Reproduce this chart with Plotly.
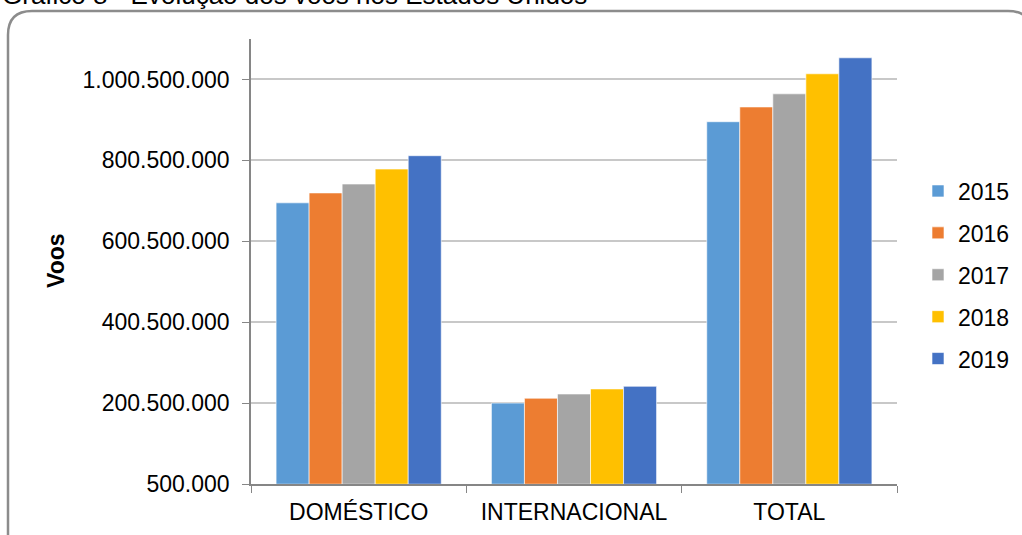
import plotly.graph_objects as go

categories = ["DOMÉSTICO", "INTERNACIONAL", "TOTAL"]
years = ["2015", "2016", "2017", "2018", "2019"]
v2015 = [695500000, 200500000, 896000000]
v2016 = [720000000, 212500000, 932500000]
v2017 = [742000000, 223000000, 965000000]
v2018 = [779000000, 235500000, 1014500000]
v2019 = [812000000, 242000000, 1054000000]
series = [v2015, v2016, v2017, v2018, v2019]
colors = ["#5B9BD5", "#ED7D31", "#A5A5A5", "#FFC000", "#4472C4"]

W, H = 1022, 535
L, R, T, B = 251, 897, 39, 484


def px(x):
    return (x - L) / (R - L)


def py(y):
    return (B - y) / (B - T)


FONT = "Liberation Sans, Arial, sans-serif"
FS = 23

fig = go.Figure()
for yr, vals, c in zip(years, series, colors):
    fig.add_trace(go.Bar(
        x=categories, y=vals, name=yr, legendgroup=yr,
        marker=dict(color=c, line=dict(color="rgba(255,255,255,0.6)", width=1)),
    ))

# rounded border
bl, bt, br, bb, r = 8, 11, 1032, 562, 24
path = (
    f"M {px(bl)},{py(bt + r)} "
    f"Q {px(bl)},{py(bt)} {px(bl + r)},{py(bt)} "
    f"L {px(br - r)},{py(bt)} "
    f"Q {px(br)},{py(bt)} {px(br)},{py(bt + r)} "
    f"L {px(br)},{py(bb - r)} "
    f"Q {px(br)},{py(bb)} {px(br - r)},{py(bb)} "
    f"L {px(bl + r)},{py(bb)} "
    f"Q {px(bl)},{py(bb)} {px(bl)},{py(bb - r)} Z"
)

fig.update_layout(
    width=W, height=H,
    margin=dict(l=L, r=W - R, t=T, b=H - B, pad=0, autoexpand=False),
    paper_bgcolor="white", plot_bgcolor="white",
    separators=",.",
    barmode="group", bargap=0.233, bargroupgap=0,
    font=dict(family=FONT, size=FS, color="#000000"),
    shapes=[dict(type="path", xref="paper", yref="paper", path=path,
                 line=dict(color="#8c8c8c", width=2.5), layer="below")],
    legend=dict(x=px(918), y=py(275), xanchor="left", yanchor="middle",
                font=dict(size=FS, family=FONT, color="#000"),
                tracegroupgap=9, bgcolor="rgba(0,0,0,0)"),
    annotations=[
        dict(text="Gráfico 8 - Evolução dos voos nos Estados Unidos",
             xref="paper", yref="paper", x=px(0), y=py(-5),
             xanchor="left", yanchor="middle", showarrow=False,
             font=dict(size=26, family=FONT, color="#000")),
        dict(text="<b>Voos</b>", xref="paper", yref="paper", x=px(56), y=py(261),
             xanchor="center", yanchor="middle", textangle=-90, showarrow=False,
             font=dict(size=23, family=FONT, color="#000")),
    ],
)

fig.update_xaxes(
    type="category", showline=True, linecolor="#868686", linewidth=1.5,
    ticks="outside", tickson="boundaries", ticklen=7, tickcolor="#868686",
    showgrid=False, ticklabelstandoff=7,
    tickfont=dict(size=FS, family=FONT, color="#000"),
)
fig.update_yaxes(
    range=[500000, 1100500000], tick0=500000, dtick=200000000,
    tickformat=",d", showline=True, linecolor="#868686", linewidth=1.5,
    ticks="outside", ticklen=7, tickcolor="#868686",
    gridcolor="#c8c8c8", gridwidth=1.5, zeroline=False,
    ticklabelstandoff=8,
    tickfont=dict(size=FS, family=FONT, color="#000"),
)

fig.write_html("out.html")
